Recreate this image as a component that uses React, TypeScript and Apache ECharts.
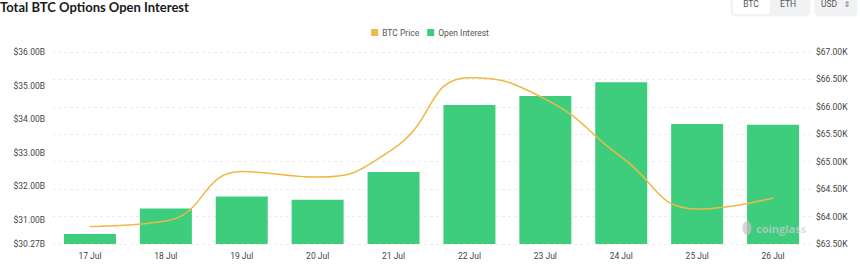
import React, { useEffect, useRef } from "react";
import * as echarts from "echarts";

// Daily categories
const days = ["17 Jul", "18 Jul", "19 Jul", "20 Jul", "21 Jul", "22 Jul", "23 Jul", "24 Jul", "25 Jul", "26 Jul"];
// Total options open interest, billions USD
const openInterest = [30.57, 31.33, 31.69, 31.59, 32.42, 34.42, 34.69, 35.1, 33.85, 33.83];
// BTC price, thousands USD
const btcPrice = [63.82, 63.92, 64.82, 64.72, 65.24, 66.53, 66.14, 65.09, 64.14, 64.34];

const labelFont = "Roboto, 'Noto Sans', sans-serif";

export default function App() {
  const ref = useRef<HTMLDivElement>(null);

  useEffect(() => {
    document.body.style.margin = "0";
    if (!ref.current) return;
    const chart = echarts.init(ref.current, undefined, { renderer: "svg" });
    chart.setOption({
      animation: false,
      backgroundColor: "#ffffff",
      legend: {
        data: [
          { name: "BTC Price", icon: "rect" },
          { name: "Open Interest", icon: "rect" },
        ],
        top: 23,
        left: "center",
        itemWidth: 7,
        itemHeight: 7,
        itemGap: 8,
        textStyle: { fontSize: 8.5, color: "#555", fontFamily: labelFont, padding: [0, 0, 0, -1] },
      },
      grid: { left: 52, right: 49, top: 52, bottom: 27, containLabel: false },
      xAxis: {
        type: "category",
        data: days,
        axisLine: { show: false },
        axisTick: { show: false },
        axisLabel: { fontSize: 8.5, color: "#444", fontFamily: labelFont, margin: 7 },
      },
      yAxis: [
        {
          type: "value",
          min: 30.27,
          max: 36,
          splitNumber: 5,
          position: "left",
          axisLine: { show: false },
          axisTick: { show: false },
          splitLine: { show: false },
          axisLabel: {
            fontSize: 8.5,
            color: "#444",
            fontFamily: labelFont,
            margin: 7,
            formatter: (v: number) => `$${v.toFixed(2)}B`,
          },
        },
        {
          type: "value",
          min: 63.5,
          max: 67,
          interval: 0.5,
          position: "right",
          axisLine: { show: false },
          axisTick: { show: false },
          splitLine: { show: true, lineStyle: { type: [3, 3], color: "#ececec", width: 1 } },
          axisLabel: {
            fontSize: 8.5,
            color: "#444",
            fontFamily: labelFont,
            margin: 5,
            formatter: (v: number) => `$${v.toFixed(2)}K`,
          },
        },
      ],
      series: [
        {
          name: "Open Interest",
          type: "bar",
          yAxisIndex: 0,
          data: openInterest,
          barWidth: 52,
          itemStyle: { color: "#3ecd7d" },
          z: 2,
        },
        {
          name: "BTC Price",
          type: "line",
          yAxisIndex: 1,
          data: btcPrice,
          smooth: true,
          symbol: "none",
          lineStyle: { color: "#f0b847", width: 1.5 },
          itemStyle: { color: "#f0b847" },
          z: 3,
        },
      ],
      graphic: [
        {
          type: "text",
          left: 0,
          top: 0,
          style: {
            text: "Total BTC Options Open Interest",
            fontSize: 13,
            fontWeight: "bold",
            fill: "#1a1a1a",
            fontFamily: "Lato, 'Open Sans', sans-serif",
          },
        },
        // currency toggle group
        {
          type: "rect",
          shape: { x: 731, y: -10, width: 79, height: 26, r: 4 },
          style: { fill: "#f1f2f4", shadowBlur: 2, shadowColor: "rgba(0,0,0,0.06)" },
        },
        {
          type: "rect",
          shape: { x: 733, y: -10, width: 37, height: 24, r: 3 },
          style: { fill: "#ffffff" },
        },
        {
          type: "text",
          x: 751,
          y: 4,
          style: { text: "BTC", fontSize: 8.5, fill: "#555", align: "center", verticalAlign: "middle", fontFamily: labelFont },
        },
        {
          type: "text",
          x: 788,
          y: 4,
          style: { text: "ETH", fontSize: 8.5, fill: "#555", align: "center", verticalAlign: "middle", fontFamily: labelFont },
        },
        {
          type: "rect",
          shape: { x: 815, y: -10, width: 42, height: 26, r: 4 },
          style: { fill: "#f1f2f4", shadowBlur: 2, shadowColor: "rgba(0,0,0,0.06)" },
        },
        {
          type: "text",
          x: 829,
          y: 4,
          style: { text: "USD", fontSize: 8.5, fill: "#555", align: "center", verticalAlign: "middle", fontFamily: labelFont },
        },
        {
          type: "text",
          x: 847,
          y: 4,
          style: { text: "⇕", fontSize: 8, fill: "#777", align: "center", verticalAlign: "middle", fontFamily: "'DejaVu Sans', sans-serif" },
        },
        // watermark
        {
          type: "text",
          x: 756,
          y: 228,
          z: 10,
          style: {
            text: "coinglass",
            fontSize: 11,
            fontWeight: "bold",
            fill: "rgba(205,205,205,0.7)",
            verticalAlign: "middle",
            fontFamily: "'Open Sans', sans-serif",
          },
        },
        {
          type: "ellipse",
          shape: { cx: 747, cy: 228, rx: 4.5, ry: 7 },
          z: 10,
          style: { fill: "rgba(195,195,195,0.7)" },
        },
      ],
    });
    return () => chart.dispose();
  }, []);

  return <div ref={ref} style={{ width: 860, height: 271 }} />;
}
